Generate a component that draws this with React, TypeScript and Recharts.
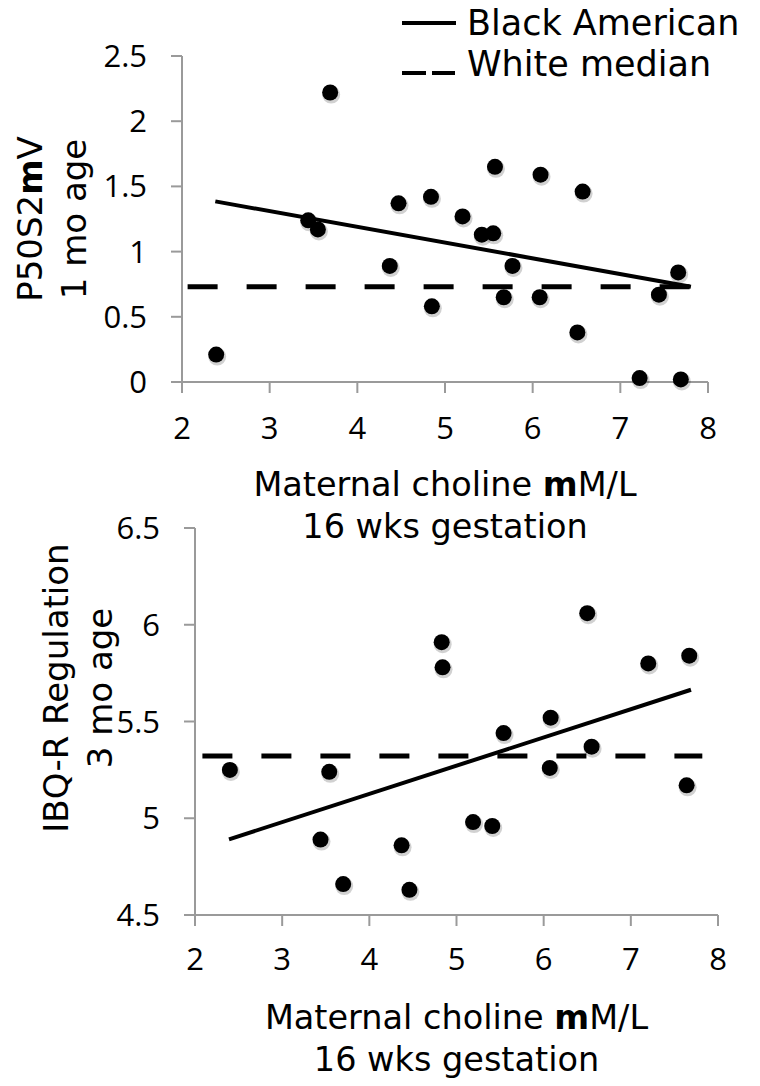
import React from 'react';
import { ScatterChart, Scatter, XAxis, YAxis, ReferenceLine } from 'recharts';

// ---------- data ----------
const xTicks = [2, 3, 4, 5, 6, 7, 8];

// Panel 1: P50S2mV (1 mo age)
const p50Choline = [2.39, 3.69, 3.44, 3.55, 4.37, 4.47, 4.84, 4.85, 5.2, 5.42, 5.55, 5.57, 5.67, 5.77, 6.09, 6.08, 6.57, 6.51, 7.22, 7.44, 7.66, 7.69];
const p50Values = [0.21, 2.22, 1.24, 1.17, 0.89, 1.37, 1.42, 0.58, 1.27, 1.13, 1.14, 1.65, 0.65, 0.89, 1.59, 0.65, 1.46, 0.38, 0.03, 0.67, 0.84, 0.02];
const p50Ticks = [0, 0.5, 1, 1.5, 2, 2.5];
const p50TrendX = [2.38, 7.805];
const p50TrendY = [1.385, 0.731];
const p50WhiteMedian = 0.73;
const p50MedianX = [2.064, 7.805];

// Panel 2: IBQ-R Regulation (3 mo age)
const ibqCholine = [2.4, 3.54, 3.44, 3.7, 4.37, 4.46, 4.83, 4.84, 5.19, 5.41, 5.54, 6.08, 6.07, 6.5, 6.55, 7.2, 7.67, 7.64];
const ibqValues = [5.25, 5.24, 4.89, 4.66, 4.86, 4.63, 5.91, 5.78, 4.98, 4.96, 5.44, 5.52, 5.26, 6.06, 5.37, 5.8, 5.84, 5.17];
const ibqTicks = [4.5, 5, 5.5, 6, 6.5];
const ibqTrendX = [2.39, 7.69];
const ibqTrendY = [4.891, 5.664];
const ibqWhiteMedian = 5.322;
const ibqMedianX = [2.085, 7.82];

const legendNames = ['Black American', 'White median'];

const p50Data = p50Choline.map((x, i) => ({ x, y: p50Values[i] }));
const ibqData = ibqCholine.map((x, i) => ({ x, y: ibqValues[i] }));

// ---------- styles ----------
const TITLE_FONT = 'DejaVu Sans';
const TICK_FONT = 'Open Sans';
const AXIS_GRAY = '#9a9a9a';

const Dot = (props: any) => {
  const { cx, cy } = props;
  if (cx == null || cy == null) return null;
  return (
    <g>
      <circle cx={cx + 1} cy={cy + 2} r={9} fill="rgba(0,0,0,0.18)" />
      <circle cx={cx} cy={cy} r={8} fill="#000" />
    </g>
  );
};

const xTitle = (props: any) => {
  const vb = props.viewBox || {};
  const cx = vb.x + vb.width / 2;
  const top = vb.y;
  return (
    <g>
      <text x={cx} y={top + 114} textAnchor="middle" fontFamily={TITLE_FONT} fontSize={33.5} fill="#000">
        Maternal choline <tspan fontWeight="bold">m</tspan>M/L
      </text>
      <text x={cx} y={top + 156} textAnchor="middle" fontFamily={TITLE_FONT} fontSize={33.5} fill="#000">
        16 wks gestation
      </text>
    </g>
  );
};

const makeYTitle = (lines: React.ReactNode[], baselines: number[], cy: number) => () => (
  <g>
    {lines.map((ln, i) => (
      <text
        key={i}
        x={baselines[i]}
        y={cy}
        transform={`rotate(-90, ${baselines[i]}, ${cy})`}
        textAnchor="middle"
        fontFamily={TITLE_FONT}
        fontSize={34}
        fill="#000"
      >
        {ln}
      </text>
    ))}
  </g>
);

const tickStyle = { fill: '#000', fontSize: 31, fontFamily: TICK_FONT };

const Legend = () => (
  <svg width={760} height={100} style={{ position: 'absolute', left: 0, top: 0, pointerEvents: 'none' }}>
    <line x1={402} x2={456} y1={23} y2={23} stroke="#000" strokeWidth={4} />
    <text x={467} y={35} fontFamily={TITLE_FONT} fontSize={35} fill="#000">{legendNames[0]}</text>
    <line x1={402} x2={455} y1={73} y2={73} stroke="#000" strokeWidth={4} strokeDasharray="24 6" />
    <text x={467} y={76} fontFamily={TITLE_FONT} fontSize={35} fill="#000">{legendNames[1]}</text>
  </svg>
);

export default function App() {
  return (
    <div style={{ position: 'absolute', left: 0, top: 0, width: 760, height: 1086, background: '#fff' }}>
      <div style={{ position: 'absolute', left: 0, top: 0 }}>
        <ScatterChart width={760} height={560} margin={{ top: 56, right: 52, bottom: 118, left: 0 }}>
          <XAxis
            type="number"
            dataKey="x"
            domain={[2, 8]}
            ticks={xTicks}
            interval={0}
            height={60}
            tickSize={11}
            tickMargin={24}
            tick={tickStyle}
            axisLine={{ stroke: AXIS_GRAY, strokeWidth: 2 }}
            tickLine={{ stroke: AXIS_GRAY, strokeWidth: 2 }}
            label={xTitle}
          />
          <YAxis
            type="number"
            dataKey="y"
            domain={[0, 2.5]}
            ticks={p50Ticks}
            interval={0}
            width={182}
            tickSize={11}
            tickMargin={24}
            tick={tickStyle}
            axisLine={{ stroke: AXIS_GRAY, strokeWidth: 2 }}
            tickLine={{ stroke: AXIS_GRAY, strokeWidth: 2 }}
            label={makeYTitle([<>P50S2<tspan fontWeight="bold">m</tspan>V</>, '1 mo age'], [42, 86], 219)}
          />
          <ReferenceLine
            segment={[{ x: p50MedianX[0], y: p50WhiteMedian }, { x: p50MedianX[1], y: p50WhiteMedian }]}
            stroke="#000"
            strokeWidth={5}
            strokeDasharray="30 29"
            ifOverflow="visible"
          />
          <ReferenceLine
            segment={[{ x: p50TrendX[0], y: p50TrendY[0] }, { x: p50TrendX[1], y: p50TrendY[1] }]}
            stroke="#000"
            strokeWidth={4}
            ifOverflow="visible"
          />
          <Scatter data={p50Data} shape={Dot} isAnimationActive={false} />
        </ScatterChart>
      </div>
      <div style={{ position: 'absolute', left: 0, top: 500 }}>
        <ScatterChart width={760} height={586} margin={{ top: 28, right: 42, bottom: 111, left: 0 }}>
          <XAxis
            type="number"
            dataKey="x"
            domain={[2, 8]}
            ticks={xTicks}
            interval={0}
            height={60}
            tickSize={11}
            tickMargin={22}
            tick={tickStyle}
            axisLine={{ stroke: AXIS_GRAY, strokeWidth: 2 }}
            tickLine={{ stroke: AXIS_GRAY, strokeWidth: 2 }}
            label={xTitle}
          />
          <YAxis
            type="number"
            dataKey="y"
            domain={[4.5, 6.5]}
            ticks={ibqTicks}
            interval={0}
            width={195}
            tickSize={11}
            tickMargin={24}
            tick={tickStyle}
            axisLine={{ stroke: AXIS_GRAY, strokeWidth: 2 }}
            tickLine={{ stroke: AXIS_GRAY, strokeWidth: 2 }}
            label={makeYTitle(['IBQ-R Regulation', '3 mo age'], [68, 112], 188)}
          />
          <ReferenceLine
            segment={[{ x: ibqMedianX[0], y: ibqWhiteMedian }, { x: ibqMedianX[1], y: ibqWhiteMedian }]}
            stroke="#000"
            strokeWidth={5}
            strokeDasharray="30 29"
            ifOverflow="visible"
          />
          <ReferenceLine
            segment={[{ x: ibqTrendX[0], y: ibqTrendY[0] }, { x: ibqTrendX[1], y: ibqTrendY[1] }]}
            stroke="#000"
            strokeWidth={4}
            ifOverflow="visible"
          />
          <Scatter data={ibqData} shape={Dot} isAnimationActive={false} />
        </ScatterChart>
      </div>
      <Legend />
    </div>
  );
}
